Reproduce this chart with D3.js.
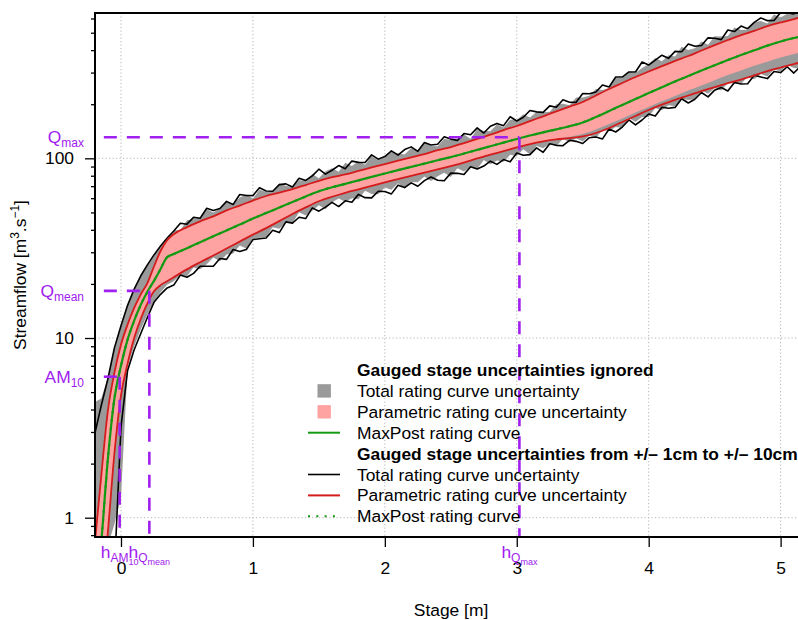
<!DOCTYPE html>
<html>
<head>
<meta charset="utf-8">
<script src="https://cdn.jsdelivr.net/npm/d3@7"></script>
<style>
  body { margin: 0; background: #fff; }
  svg { display: block; font-family: "Liberation Sans", Arial, Helvetica, sans-serif; }
</style>
</head>
<body>
<div id="chart"></div>
<script>
// Stage grid [m] for the smooth curves
const stage = [-0.2, -0.15, -0.1, -0.05, 0, 0.05, 0.1, 0.15, 0.2, 0.25, 0.3, 0.35,
  0.4, 0.5, 0.6, 0.7, 0.8, 0.9, 1.0, 1.1, 1.2, 1.3, 1.4, 1.5, 1.6, 1.7, 1.8, 1.9,
  2.0, 2.1, 2.2, 2.3, 2.4, 2.5, 2.6, 2.7, 2.8, 2.9, 3.0, 3.1, 3.2, 3.3, 3.4, 3.5,
  3.6, 3.7, 3.8, 3.9, 4.0, 4.1, 4.2, 4.3, 4.4, 4.5, 4.6, 4.7, 4.8, 4.9, 5.0, 5.1, 5.2]

// Finer stage grid [m] for the (jagged) total uncertainty envelopes
const stageTotal = [-0.2, -0.15, -0.1, -0.05, 0, 0.05, 0.1, 0.15, 0.2, 0.25, 0.3, 0.35,
  0.4, 0.45, 0.5, 0.55, 0.6, 0.65, 0.7, 0.75, 0.8, 0.85, 0.9, 0.95, 1.0, 1.05, 1.1, 1.15,
  1.2, 1.25, 1.3, 1.35, 1.4, 1.45, 1.5, 1.55, 1.6, 1.65, 1.7, 1.75, 1.8, 1.85, 1.9, 1.95,
  2.0, 2.05, 2.1, 2.15, 2.2, 2.25, 2.3, 2.35, 2.4, 2.45, 2.5, 2.55, 2.6, 2.65, 2.7, 2.75,
  2.8, 2.85, 2.9, 2.95, 3.0, 3.05, 3.1, 3.15, 3.2, 3.25, 3.3, 3.35, 3.4, 3.45, 3.5, 3.55,
  3.6, 3.65, 3.7, 3.75, 3.8, 3.85, 3.9, 3.95, 4.0, 4.05, 4.1, 4.15, 4.2, 4.25, 4.3, 4.35,
  4.4, 4.45, 4.5, 4.55, 4.6, 4.65, 4.7, 4.75, 4.8, 4.85, 4.9, 4.95, 5.0, 5.05, 5.1, 5.15, 5.2]

// Gauged stage uncertainties ignored [m3/s]
const qMaxPost = [0.3, 0.72, 2.1, 4.6, 7.0, 9.8, 12.5, 15.3, 18.1, 20.8, 24.2, 28.2,
  29.3, 31.6, 34.1, 36.8, 39.7, 42.8, 46.2, 49.6, 53.2, 57.1, 61.3, 65.6, 69.0, 72.1, 75.4, 78.8,
  82.3, 85.9, 89.6, 93.4, 97.5, 101.6, 106.3, 111.4, 116.8, 122.3, 128.1, 133.9, 139.5, 145.0, 150.9, 158.2,
  169.8, 183.4, 198.0, 213.8, 230.9, 248.7, 267.9, 287.1, 308.1, 329.8, 352.4, 375.7, 399.0, 423.9, 446.7, 467.0, 485.4]
const qParamHigh = [0.7, 1.7, 3.9, 6.4, 9.2, 11.9, 14.7, 17.5, 20.2, 25.0, 30.5, 35.0,
  37.8, 41.4, 44.6, 47.5, 51.3, 54.6, 58.2, 61.7, 64.5, 67.4, 71.0, 75.0, 78.5, 81.4, 85.1, 89.0,
  92.9, 97.0, 101.2, 105.4, 110.9, 115.5, 121.6, 128.2, 135.4, 143.6, 151.3, 161.2, 171.3, 182.6, 193.8, 205.8,
  223.8, 243.2, 262.5, 283.5, 304.3, 325.6, 348.5, 370.9, 398.1, 426.1, 455.3, 485.4, 512.3, 544.3, 570.0, 595.9, 619.4]
const qParamLow = [0.1, 0.33, 0.82, 2.27, 4.8, 7.2, 10.0, 12.8, 15.6, 18.2, 19.7, 20.7,
  21.8, 24.1, 26.4, 28.8, 31.5, 34.4, 37.6, 40.9, 44.7, 49.0, 53.3, 57.7, 61.1, 64.3, 67.2, 70.2,
  73.4, 76.6, 79.9, 83.2, 86.9, 90.6, 94.7, 99.9, 104.8, 109.7, 114.9, 120.1, 124.3, 128.4, 131.9, 136.5,
  144.6, 155.3, 166.5, 179.8, 193.1, 207.9, 222.5, 238.5, 254.2, 272.1, 290.8, 308.0, 327.0, 345.2, 363.8, 380.3, 395.3]
const qTotalHigh = [4.4, 4.6, 6.0, 8.6, 11.6, 15.0, 18.5, 22.0, 25.0, 28.5, 32.0, 35.5,
  39.8, 39.8, 45.2, 45.8, 46.4, 52.0, 50.0, 52.6, 57.6, 55.3,
  60.5, 62.9, 59.7, 66.8, 64.9, 65.6, 72.4, 70.3, 69.2, 75.5,
  75.3, 81.9, 77.5, 84.7, 88.0, 84.3, 94.4, 90.5, 96.2, 92.2,
  103.1, 97.6, 101.1, 108.7, 106.8, 104.9, 114.3, 110.9, 122.3, 117.2,
  116.6, 128.6, 126.3, 125.9, 135.6, 128.5, 145.8, 141.8, 141.6, 154.4,
  148.2, 163.9, 163.5, 175.9, 168.6, 181.3, 180.2, 181.4, 199.7, 201.1,
  197.5, 218.3, 217.8, 222.9, 243.0, 240.0, 246.3, 280.0, 279.8, 302.3,
  298.2, 318.0, 334.8, 361.2, 346.9, 374.2, 368.9, 417.9, 400.5, 409.5,
  446.7, 428.1, 478.2, 475.6, 479.3, 534.6, 517.3, 520.0, 571.0, 581.0,
  562.1, 631.0, 607.5, 637.1, 686.0, 639.4, 668.4]
const qTotalLow = [0.3, 0.45, 0.7, 0.92, 1.3, 6.9, 9.0, 11.2, 13.5, 16.0, 18.0, 19.8,
  20.7, 22.4, 22.1, 24.7, 24.1, 25.7, 28.1, 26.7, 29.2, 29.5,
  32.7, 31.5, 35.8, 36.1, 36.5, 41.4, 40.6, 43.8, 43.6, 50.1,
  48.0, 51.0, 54.8, 52.1, 56.9, 59.7, 57.3, 60.0, 59.1, 66.1,
  63.4, 63.1, 68.8, 66.8, 72.7, 67.9, 73.9, 73.6, 79.1, 74.8,
  79.4, 83.2, 78.6, 88.0, 84.4, 89.8, 87.3, 97.9, 92.8, 97.3,
  95.8, 104.7, 103.1, 112.3, 104.9, 117.2, 113.6, 120.4, 116.7, 128.5,
  122.9, 129.2, 124.0, 133.5, 129.7, 143.7, 142.0, 149.4, 147.4, 167.6,
  159.2, 169.7, 169.8, 190.4, 185.2, 197.2, 194.6, 214.6, 211.1, 213.2,
  238.5, 228.5, 245.6, 238.2, 262.4, 260.9, 259.1, 284.7, 275.2, 294.8,
  284.9, 312.0, 304.1, 331.7, 317.9, 315.9, 339.2]

// Gauged stage uncertainties from +/- 1cm to +/- 10cm [m3/s]
const qMaxPostSU = qMaxPost
const qParamHighSU = [0.7, 1.7, 3.9, 6.4, 9.2, 11.9, 14.7, 17.5, 20.2, 25.0, 30.5, 35.0,
  37.8, 41.4, 44.6, 47.5, 51.3, 54.6, 58.2, 61.7, 64.5, 67.4, 71.0, 75.0, 78.5, 81.4, 85.1, 89.0,
  92.9, 97.0, 101.2, 105.4, 110.9, 115.5, 121.6, 128.2, 135.4, 143.6, 151.3, 161.2, 171.3, 182.6, 193.8, 205.8,
  223.8, 243.2, 262.5, 283.5, 304.3, 325.6, 348.5, 370.9, 398.1, 426.1, 455.3, 485.4, 512.3, 544.3, 570.0, 595.9, 619.4]
const qParamLowSU = [0.1, 0.33, 0.82, 2.27, 4.8, 7.2, 10.0, 12.8, 15.6, 18.2, 19.7, 20.7,
  21.8, 24.1, 26.4, 28.8, 31.5, 34.4, 37.6, 40.9, 44.7, 49.0, 53.3, 57.7, 61.1, 64.3, 67.2, 70.2,
  73.4, 76.6, 79.9, 83.2, 86.9, 90.6, 94.7, 99.9, 104.8, 109.7, 114.9, 120.1, 124.3, 127.5, 129.4, 132.3,
  138.3, 147.5, 159.3, 172.0, 185.8, 198.8, 211.3, 223.6, 236.8, 248.7, 262.4, 274.4, 289.8, 305.8, 320.2, 334.8, 348.0]
const qTotalHighSU = [2.9, 4.2, 5.9, 8.8, 11.7, 15.2, 18.7, 22.2, 25.5, 29.0, 32.5, 36.0,
  39.4, 43.5, 43.0, 46.9, 46.4, 52.7, 51.3, 52.6, 57.6, 55.3,
  62.9, 62.1, 62.0, 68.5, 65.8, 65.6, 71.4, 72.1, 69.2, 77.5,
  75.3, 79.8, 87.0, 81.6, 85.8, 91.1, 87.4, 96.5, 94.9, 94.7,
  104.5, 98.9, 102.3, 110.1, 104.1, 111.9, 115.8, 109.4, 122.3, 118.6,
  119.7, 131.9, 127.9, 125.9, 137.3, 135.2, 147.7, 138.3, 150.9, 156.4,
  152.0, 170.3, 161.3, 169.3, 184.4, 181.3, 180.2, 195.8, 192.3, 211.6,
  205.2, 204.9, 229.4, 228.6, 233.8, 255.9, 249.4, 283.6, 283.3, 302.3,
  302.1, 343.5, 330.4, 352.1, 374.8, 360.1, 393.5, 391.8, 432.7, 420.2,
  424.3, 468.3, 466.0, 457.8, 517.7, 507.6, 544.8, 526.6, 571.0, 604.1,
  583.7, 584.5, 647.7, 645.3, 635.1, 699.4, 677.1]
const qTotalLowSU = [null, null, null, 0.5, 3.2, 6.6, 8.6, 10.6, 13.0, 15.8, 17.5, 19.0,
  19.7, 22.4, 21.8, 22.9, 25.1, 25.1, 25.1, 27.7, 27.4, 31.1,
  30.3, 31.1, 35.3, 35.7, 36.0, 39.8, 38.6, 44.3, 43.6, 47.0,
  46.2, 53.0, 50.8, 53.5, 56.9, 53.9, 58.0, 57.0, 63.0, 60.4,
  60.2, 65.6, 65.4, 63.4, 70.9, 68.7, 73.0, 69.9, 75.1, 78.7,
  75.5, 75.0, 82.7, 82.5, 81.2, 89.8, 87.3, 90.6, 96.4, 92.5,
  98.4, 95.6, 107.1, 104.1, 104.9, 114.3, 108.0, 120.4, 118.1, 117.5,
  126.0, 124.3, 120.9, 130.2, 131.4, 128.2, 145.7, 140.1, 149.3, 163.5,
  153.3, 163.4, 176.4, 171.8, 192.5, 189.8, 192.0, 214.6, 203.2, 213.2,
  232.4, 219.9, 239.5, 247.6, 236.8, 264.3, 259.1, 260.2, 289.8, 283.6,
  277.8, 304.1, 300.2, 323.2, 298.2, 324.1, 334.8]

// Hydrological markers: AM10, Qmean, Qmax
const markerStage = [-0.01, 0.215, 3.02]
const markerQ = [6.09, 18.3, 131]
const markerStart = -0.13

// Axis ticks
const xTicks = [0, 1, 2, 3, 4, 5]
const yTicks = [1, 10, 100]
const yMinorTicks = [0.8, 0.9, 2, 3, 4, 5, 6, 7, 8, 9, 20, 30, 40, 50, 60, 70, 80, 90, 200, 300, 400, 500, 600]

// Legend
const legendLabels = ['Gauged stage uncertainties ignored', 'Total rating curve uncertainty',
  'Parametric rating curve uncertainty', 'MaxPost rating curve',
  'Gauged stage uncertainties from +/\u2013 1cm to +/\u2013 10cm', 'Total rating curve uncertainty',
  'Parametric rating curve uncertainty', 'MaxPost rating curve']
const legendKeys = ['title', 'grayBox', 'pinkBox', 'green', 'title', 'black', 'red', 'greenDot']

// Colours
const GRAY = '#9a9a9a', PINK = '#ffa2a2', GREEN = '#129a12', RED = '#d41c1c', PURPLE = '#a020f0'
const FONT = 17.4

const width = 798, height = 620
const plot = {left: 95, top: 13, bottom: 537, right: 807}

const svg = d3.select('#chart').append('svg').attr('width', width).attr('height', height)

// X-axis linear scale
const x = d3.scaleLinear()
  .domain([-0.197, 5.2])
  .range([plot.left, plot.right])

// Y-axis log scale
const y = d3.scaleLog()
  .domain([0.781, 643.7])
  .range([plot.bottom, plot.top])

svg.append('clipPath').attr('id', 'clip')
  .append('rect')
  .attr('x', plot.left).attr('y', plot.top)
  .attr('width', plot.right - plot.left).attr('height', plot.bottom - plot.top)

// Dotted grid
const grid = svg.append('g')
  .attr('stroke', '#b4b4b4').attr('stroke-width', 1).attr('stroke-dasharray', '1.2,2.3')
grid.selectAll('.gx').data(xTicks).enter().append('line')
  .attr('x1', d => x(d)).attr('x2', d => x(d))
  .attr('y1', plot.top).attr('y2', plot.bottom)
grid.selectAll('.gy').data(yTicks).enter().append('line')
  .attr('x1', plot.left).attr('x2', plot.right)
  .attr('y1', d => y(d)).attr('y2', d => y(d))

const rows = stage.map((h, i) => ({
  h,
  mp: qMaxPost[i], pLo: qParamLow[i], pHi: qParamHigh[i],
  mpSU: qMaxPostSU[i], pLoSU: qParamLowSU[i], pHiSU: qParamHighSU[i]
}))
const rowsTotal = stageTotal.map((h, i) => ({
  h,
  tLo: qTotalLow[i], tHi: qTotalHigh[i], tLoSU: qTotalLowSU[i], tHiSU: qTotalHighSU[i]
}))

const curves = svg.append('g').attr('clip-path', 'url(#clip)')

const band = (lo, hi, curve) => d3.area()
  .curve(curve)
  .x(d => x(d.h))
  .y0(d => y(d[lo]))
  .y1(d => y(d[hi]))

const line = (key, curve) => d3.line()
  .curve(curve)
  .defined(d => d[key] != null)
  .x(d => x(d.h))
  .y(d => y(d[key]))

// Bands (stage uncertainties ignored)
curves.append('path').datum(rowsTotal)
  .attr('fill', GRAY)
  .attr('d', band('tLo', 'tHi', d3.curveLinear))
curves.append('path').datum(rows)
  .attr('fill', PINK)
  .attr('d', band('pLo', 'pHi', d3.curveMonotoneX))
curves.append('path').datum(rows)
  .attr('fill', 'none').attr('stroke', GREEN).attr('stroke-width', 2.2)
  .attr('d', line('mp', d3.curveMonotoneX))

// Lines (stage uncertainties included)
;['tLoSU', 'tHiSU'].forEach(key => {
  curves.append('path').datum(rowsTotal)
    .attr('fill', 'none').attr('stroke', '#000').attr('stroke-width', 1.6)
    .attr('stroke-linejoin', 'round')
    .attr('d', line(key, d3.curveLinear))
})
;['pLoSU', 'pHiSU'].forEach(key => {
  curves.append('path').datum(rows)
    .attr('fill', 'none').attr('stroke', RED).attr('stroke-width', 1.8)
    .attr('d', line(key, d3.curveMonotoneX))
})
curves.append('path').datum(rows)
  .attr('fill', 'none').attr('stroke', GREEN).attr('stroke-width', 2.2)
  .attr('stroke-dasharray', '2,6.3')
  .attr('d', line('mpSU', d3.curveMonotoneX))

// Purple markers
const markers = svg.append('g').attr('clip-path', 'url(#clip)')
  .attr('stroke', PURPLE).attr('stroke-width', 2.6).attr('stroke-dasharray', '13,10').attr('fill', 'none')
markerQ.forEach((q, i) => {
  markers.append('line')
    .attr('x1', x(markerStart)).attr('x2', x(markerStage[i]))
    .attr('y1', y(q)).attr('y2', y(q))
  markers.append('line')
    .attr('x1', x(markerStage[i])).attr('x2', x(markerStage[i]))
    .attr('y1', y(q)).attr('y2', plot.bottom)
})

// Box
svg.append('path')
  .attr('fill', 'none').attr('stroke', '#000').attr('stroke-width', 2)
  .attr('d', `M${plot.right},${plot.top}H${plot.left}V${plot.bottom}H${plot.right}`)

// Axes
const styleAxis = g => {
  g.select('.domain').remove()
  g.attr('font-size', FONT).attr('font-family', null)
  g.selectAll('line').attr('stroke-width', 1.3)
}
svg.append('g')
  .attr('transform', `translate(0,${plot.bottom})`)
  .call(d3.axisBottom(x).tickValues(xTicks).tickSize(10).tickPadding(15).tickFormat(d3.format('d')))
  .call(styleAxis)
svg.append('g')
  .attr('transform', `translate(${plot.left},0)`)
  .call(d3.axisLeft(y).tickValues(yTicks).tickSize(10).tickPadding(11).tickFormat(d3.format('d')))
  .call(styleAxis)
svg.append('g')
  .attr('transform', `translate(${plot.left},0)`)
  .call(d3.axisLeft(y).tickValues(yMinorTicks).tickSize(4).tickFormat(''))
  .call(styleAxis)

// Axis titles
svg.append('text')
  .attr('x', (plot.left + plot.right) / 2).attr('y', 616)
  .attr('text-anchor', 'middle').attr('font-size', FONT)
  .text('Stage [m]')
const yTitle = svg.append('text')
  .attr('transform', 'translate(26,275) rotate(-90)')
  .attr('text-anchor', 'middle').attr('font-size', FONT)
yTitle.append('tspan').text('Streamflow [m')
yTitle.append('tspan').attr('font-size', 12).attr('dy', -7).text('3')
yTitle.append('tspan').attr('dy', 7).text('.s')
yTitle.append('tspan').attr('font-size', 12).attr('dy', -7).text('\u22121')
yTitle.append('tspan').attr('dy', 7).text(']')

// Marker labels
const subLabel = (parent, parts) => {
  parts.forEach(([txt, size, dy]) => {
    parent.append('tspan').attr('font-size', size).attr('dy', dy).text(txt)
  })
}
const leftLabels = [[['AM', FONT, 0], ['10', 12, 4]], [['Q', FONT, 0], ['mean', 12, 4]], [['Q', FONT, 0], ['max', 12, 4]]]
const bottomLabels = [
  [['h', FONT, 0], ['AM', 12, 3.5], ['10', 9, 3]],
  [['h', FONT, 0], ['Q', 12, 3.5], ['mean', 9, 3]],
  [['h', FONT, 0], ['Q', 12, 3.5], ['max', 9, 3]]
]
markerQ.forEach((q, i) => {
  const t = svg.append('text')
    .attr('x', 84).attr('y', y(q) + 6)
    .attr('text-anchor', 'end').attr('fill', PURPLE)
  subLabel(t, leftLabels[i])
  const b = svg.append('text')
    .attr('x', x(markerStage[i])).attr('y', 558)
    .attr('text-anchor', 'middle').attr('fill', PURPLE)
  subLabel(b, bottomLabels[i])
})

// Legend
const legend = svg.append('g').attr('font-size', FONT)
const rowY = i => 370 + i * 20.9
legendLabels.forEach((label, i) => {
  const key = legendKeys[i]
  const cy = rowY(i)
  legend.append('text')
    .attr('x', 357).attr('y', cy).attr('dy', '0.35em')
    .attr('font-weight', key === 'title' ? 'bold' : null)
    .text(label)
  if (key === 'grayBox' || key === 'pinkBox') {
    legend.append('rect')
      .attr('x', 317.5).attr('y', cy - 6.7).attr('width', 13.4).attr('height', 13.4)
      .attr('fill', key === 'grayBox' ? GRAY : PINK)
  } else if (key !== 'title') {
    const colour = {green: GREEN, greenDot: GREEN, black: '#000', red: RED}[key]
    legend.append('line')
      .attr('x1', 308).attr('x2', 340).attr('y1', cy).attr('y2', cy)
      .attr('stroke', colour).attr('stroke-width', key === 'black' ? 1.6 : 2)
      .attr('stroke-dasharray', key === 'greenDot' ? '2,6.3' : null)
  }
})
</script>
</body>
</html>
